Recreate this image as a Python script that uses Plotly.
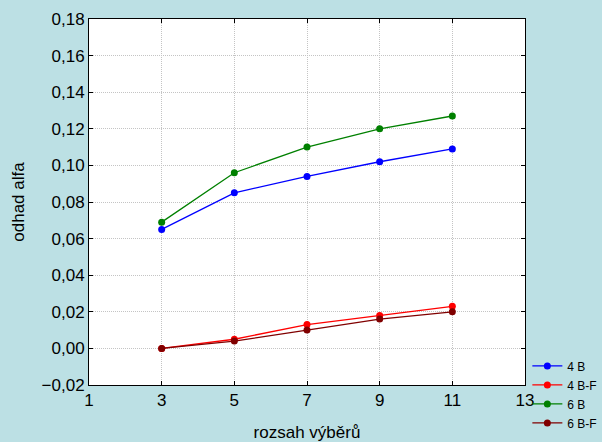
import plotly.graph_objects as go

x_vals = [3, 5, 7, 9, 11]
s4b = [0.065, 0.085, 0.094, 0.102, 0.109]
s4bf = [0.0, 0.005, 0.013, 0.018, 0.023]
s6b = [0.069, 0.096, 0.110, 0.120, 0.127]
s6bf = [0.0, 0.004, 0.010, 0.016, 0.020]
names = ["4 B", "4 B-F", "6 B", "6 B-F"]
colors = ["#0000FF", "#FF0000", "#008000", "#800000"]

fig = go.Figure()
for name, ys, c in zip(names, [s4b, s4bf, s6b, s6bf], colors):
    fig.add_trace(go.Scatter(x=x_vals, y=ys, name=name, mode="lines+markers",
                             line=dict(color=c, width=1.3),
                             marker=dict(color=c, size=7)))

font = "Liberation Sans, Arial, sans-serif"
fig.update_layout(
    width=602, height=442,
    paper_bgcolor="#BCE0E4", plot_bgcolor="white",
    margin=dict(l=89, r=77, t=19, b=57, autoexpand=False),
    separators=", ",
    font=dict(family=font, color="black", size=17),
    legend=dict(xref="container", yref="container", x=0.876, y=0.205,
                xanchor="left", yanchor="top",
                bgcolor="rgba(0,0,0,0)", font=dict(size=12),
                itemwidth=30, tracegroupgap=0),
    xaxis=dict(range=[1, 13], dtick=2, tick0=1, showline=True, linecolor="black",
               linewidth=1, mirror="ticks", ticks="inside", ticklen=4,
               tickcolor="black", showgrid=True, gridcolor="#C4C4C4",
               griddash="1px,1px", zeroline=False, automargin=False,
               title=dict(text="rozsah výběrů", font=dict(size=17), standoff=16)),
    yaxis=dict(range=[-0.02, 0.18], dtick=0.02, tickformat=".2f", showline=True,
               linecolor="black", linewidth=1, mirror="ticks", ticks="inside",
               ticklen=4, tickcolor="black", showgrid=True, gridcolor="#C4C4C4",
               griddash="1px,1px", zeroline=False, automargin=False,
               title=dict(text="odhad alfa", font=dict(size=17), standoff=12)),
)
fig.write_html("out.html", config={"displayModeBar": False},
               post_script="document.body.style.margin='0';document.body.style.overflow='hidden';")
